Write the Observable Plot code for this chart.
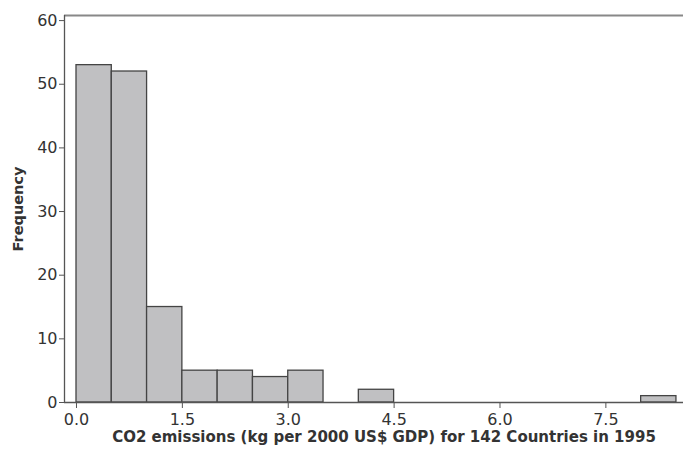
<!DOCTYPE html>
<html>
<head>
<meta charset="utf-8">
<script src="https://cdn.jsdelivr.net/npm/d3@7"></script>
<script src="https://cdn.jsdelivr.net/npm/@observablehq/plot@0.6"></script>
<style>
  html, body { margin: 0; padding: 0; background: #fff; }
  #chart svg { display: block; }
</style>
</head>
<body>
<div id="chart"></div>
<script>
// Histogram bins (width 0.5) and counts
const binStarts = [0.0, 0.5, 1.0, 1.5, 2.0, 2.5, 3.0, 3.5, 4.0, 4.5, 5.0, 5.5, 6.0, 6.5, 7.0, 7.5, 8.0];
const counts    = [53,  52,  15,  5,   5,   4,   5,   0,   2,   0,   0,   0,   0,   0,   0,   0,   1];
const binWidth = 0.5;
const xTicks = [0.0, 1.5, 3.0, 4.5, 6.0, 7.5];
const yTicks = [0, 10, 20, 30, 40, 50, 60];
const xTitle = "CO2 emissions (kg per 2000 US$ GDP) for 142 Countries in 1995";
const yTitle = "Frequency";
const xDomain = [-0.17, 8.6];
const yDomain = [0, 60.8];

const bins = binStarts.map((b, i) => ({x1: b, x2: b + binWidth, count: counts[i]})).filter(d => d.count > 0);

const chart = Plot.plot({
  width: 683,
  height: 453,
  marginLeft: 64,
  marginRight: 0,
  marginTop: 15,
  marginBottom: 51,
  style: {fontFamily: "'DejaVu Sans', Verdana, sans-serif", fontSize: "16px", color: "#333", background: "#fff"},
  x: {domain: xDomain},
  y: {domain: yDomain},
  marks: [
    Plot.rectY(bins, {x1: "x1", x2: "x2", y: "count", fill: "#c0c0c2", stroke: "#444", strokeWidth: 1.3}),
    Plot.ruleY([yDomain[1]], {stroke: "#888", strokeWidth: 2}),
    Plot.ruleY([0], {stroke: "#555", strokeWidth: 1.3}),
    Plot.ruleX([xDomain[0]], {stroke: "#555", strokeWidth: 1.3}),
    Plot.axisX(xTicks, {tickSize: 6, tickFormat: d3.format(".1f"), tickPadding: 5, label: null, stroke: "#555", fontSize: 16, fill: "#333"}),
    Plot.axisY(yTicks, {tickSize: 5, tickPadding: 2, label: null, stroke: "#555", fontSize: 16, fill: "#333"}),
    Plot.text([yTitle], {frameAnchor: "left", textAnchor: "middle", dx: -46, rotate: -90, fontWeight: "bold", fontSize: 14.5, fill: "#333"}),
    Plot.text([xTitle], {frameAnchor: "bottom", dx: 10, dy: 39, fontWeight: "bold", fontSize: 15, fill: "#333"})
  ]
});
document.getElementById("chart").appendChild(chart);
</script>
</body>
</html>
